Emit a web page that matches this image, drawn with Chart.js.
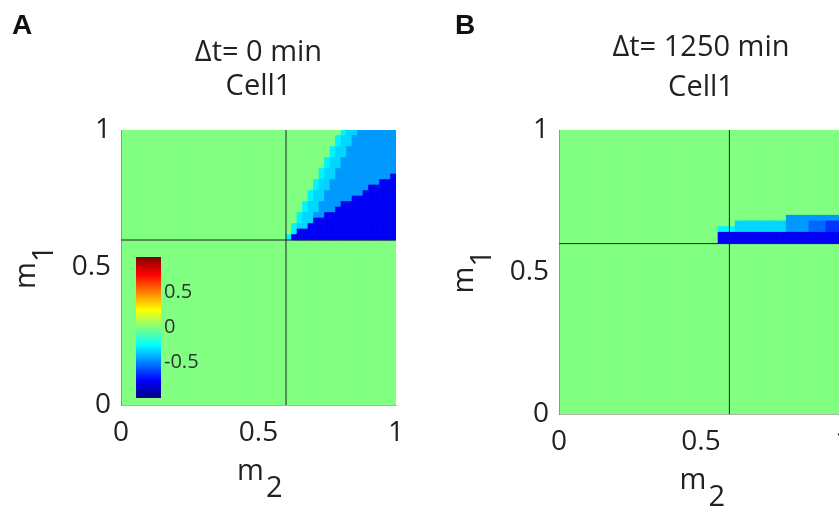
<!DOCTYPE html>
<html>
<head>
<meta charset="utf-8">
<title>Cell1 maps</title>
<script src="https://cdn.jsdelivr.net/npm/chart.js@4.4.0/dist/chart.umd.min.js"></script>
<style>
  html, body { margin: 0; padding: 0; background: #fff; }
  body { position: relative; width: 839px; height: 508px; overflow: hidden; }
  canvas { position: absolute; top: 0; }
  .tag { position: absolute; top: 11px; font: bold 28px 'Liberation Sans', Arial, sans-serif; line-height: 28px; color: #111; }
</style>
</head>
<body>
<canvas id="chartA" width="440" height="508" style="left:0"></canvas>
<canvas id="chartB" width="470" height="508" style="left:420px"></canvas>
<canvas id="colorbar" width="80" height="175" style="left:136px; top:240px"></canvas>
<div class="tag" style="left:12px">A</div>
<div class="tag" style="left:455px">B</div>
<script>
'use strict';

//tick labels
var m1Ticks = [0, 0.5, 1];
var m2Ticks = [0, 0.5, 1];
var colorTicks = [-0.5, 0, 0.5];
var colorRange = [-1, 1];

//the two black threshold lines
var m1Line = 0.6;
var m2Line = 0.6;

//grid of the maps
var cellStep = 0.02;
var cellCount = 50;

//value for each letter in the rows below, '.' is 0
var cellLevels = { c: -0.27, l: -0.33, m: -0.45, n: -0.55, b: -0.65, d: -0.77 };

//panel A: rows from m1 = 1 down to m1 = 0.6, columns m2 = 0.6 -> 1
var cellsA = [
  '..........cllmmmmmmm',
  '.........cllmmmmmmmm',
  '.........cllmmmmmmmm',
  '........cllmmmmmmmmm',
  '........cllmmmmmmmmm',
  '.......cllmmmmmmmmmm',
  '.......cllmmmmmmmmmm',
  '......cllmmmmmmmmmmm',
  '......cllmmmmmmmmmmd',
  '.....cllmmmmmmmmmddd',
  '.....cllmmmmmmmddddd',
  '....cllmmmmmmmdddddd',
  '....cllmmmmmdddddddd',
  '...cllmmmmdddddddddd',
  '...cllmmmddddddddddd',
  '..cllmmddddddddddddd',
  '..cllddddddddddddddd',
  '.clldddddddddddddddd',
  '.cdddddddddddddddddd',
  'cddddddddddddddddddd'
];
var cellsAOrigin = [0.6, 0.6]; // [m2, m1] of bottom left cell

//panel B: rows from m1 = 0.7 down to m1 = 0.6, columns m2 = 0.56 -> 1
var cellsB = [
  '............mmmmmmmmmm',
  '...lllllllllmmmmnnnbbb',
  'ccclllllllllmmmmnnnbbb',
  'dddddddddddddddddddddd',
  'dddddddddddddddddddddd'
];
var cellsBOrigin = [0.56, 0.6];

var titleA = ['\u0394t= 0 min', 'Cell1'];
var titleB = ['\u0394t= 1250 min', 'Cell1'];

var fontFamily = "'Open Sans', 'Noto Sans', sans-serif";
var textColor = '#222';
var jetStops = [[0, '#000080'], [0.125, '#0000ff'], [0.375, '#00ffff'], [0.625, '#ffff00'], [0.875, '#ff0000'], [1, '#800000']];

function round3(v) {
  return Math.round(v * 1000) / 1000;
}

//matlab jet colormap
function jet(v) {
  var t = (v - colorRange[0]) / (colorRange[1] - colorRange[0]);
  function ch(c) {
    return Math.round(255 * Math.max(0, Math.min(1, 1.5 - Math.abs(4 * t - c))));
  }
  return 'rgb(' + ch(3) + ',' + ch(2) + ',' + ch(1) + ')';
}

//the zero background, one full column per m2 step
function zeroColumns() {
  var out = [];
  for (var k = 0; k < cellCount; k++) {
    out.push({ x: round3((k + 0.5) * cellStep), y: [0, 1], v: 0 });
  }
  return out;
}

//turns the letter rows into floating bars
function buildCells(rows, origin) {
  var out = [];
  for (var i = 0; i < rows.length; i++) {
    var lo = round3(origin[1] + (rows.length - 1 - i) * cellStep);
    for (var j = 0; j < rows[i].length; j++) {
      var code = rows[i].charAt(j);
      if (code === '.') continue;
      out.push({ x: round3(origin[0] + (j + 0.5) * cellStep), y: [lo, round3(lo + cellStep)], v: cellLevels[code] });
    }
  }
  return out;
}

function cellColor(c) {
  return c.raw ? jet(c.raw.v) : jet(0);
}

//m with a subscript for the axis names
var axisNamePlugin = {
  id: 'axisNames',
  afterDraw: function (chart, args, opts) {
    var ctx = chart.ctx;
    var a = chart.chartArea;
    ctx.save();
    ctx.fillStyle = textColor;
    ctx.font = '29px ' + fontFamily;
    ctx.textBaseline = 'alphabetic';
    var mW = ctx.measureText(opts.x[0]).width;
    var cx = (a.left + a.right) / 2 - 8;
    var by = a.bottom + 75;
    ctx.textAlign = 'center';
    ctx.fillText(opts.x[0], cx, by);
    ctx.textAlign = 'left';
    ctx.fillText(opts.x[1], cx + mW / 2 + 2, by + 17);

    ctx.translate(a.left - 86, (a.top + a.bottom) / 2 + 8);
    ctx.rotate(-Math.PI / 2);
    ctx.textAlign = 'center';
    ctx.fillText(opts.y[0], 0, 0);
    ctx.textAlign = 'left';
    ctx.fillText(opts.y[1], mW / 2, 18);
    ctx.restore();
  }
};

function tickList(values) {
  return function (scale) {
    scale.ticks = values.map(function (v) { return { value: v }; });
  };
}

function makeMap(canvasId, rows, origin, title, box) {
  var ctx = document.getElementById(canvasId).getContext('2d');
  return new Chart(ctx, {
    type: 'bar',
    data: {
      datasets: [
        {
          data: zeroColumns(),
          backgroundColor: jet(0),
          borderWidth: 0,
          grouped: false,
          barPercentage: 1,
          categoryPercentage: 1,
          order: 3
        },
        {
          data: buildCells(rows, origin),
          backgroundColor: cellColor,
          borderWidth: 0,
          grouped: false,
          barPercentage: 1,
          categoryPercentage: 1,
          order: 2
        },
        {
          type: 'line',
          data: [{ x: m2Line, y: 0 }, { x: m2Line, y: 1 }],
          borderColor: textColor,
          borderWidth: 1,
          pointRadius: 0,
          order: 0
        },
        {
          type: 'line',
          data: [{ x: 0, y: m1Line }, { x: 1, y: m1Line }],
          borderColor: textColor,
          borderWidth: 1,
          pointRadius: 0,
          order: 0
        }
      ]
    },
    options: {
      responsive: false,
      animation: false,
      events: [],
      layout: { padding: { left: 0, right: box.padRight, top: 0, bottom: 0 } },
      plugins: {
        legend: { display: false },
        tooltip: { enabled: false },
        title: {
          display: true,
          text: title,
          fullSize: false,
          color: textColor,
          font: { family: fontFamily, size: 29, weight: 'normal', lineHeight: box.titleLine },
          padding: { top: box.titleTop, bottom: box.titleBottom }
        },
        axisNames: { x: ['m', '2'], y: ['m', '1'] }
      },
      scales: {
        x: {
          type: 'linear',
          min: 0,
          max: 1,
          offset: false,
          grid: { display: false, drawTicks: false },
          border: { display: true, color: 'rgba(70,90,70,0.45)', width: 1, z: 1 },
          afterBuildTicks: tickList(m2Ticks),
          afterFit: function (s) { s.height = box.xHeight; },
          ticks: {
            color: textColor,
            font: { family: fontFamily, size: 28 },
            padding: 11,
            maxRotation: 0,
            autoSkip: false,
            callback: function (v) { return String(v); }
          }
        },
        y: {
          type: 'linear',
          min: 0,
          max: 1,
          grid: { display: false, drawTicks: false },
          border: { display: true, color: 'rgba(70,90,70,0.45)', width: 1, z: 1 },
          afterBuildTicks: tickList(m1Ticks),
          afterFit: function (s) { s.width = box.yWidth; },
          ticks: {
            color: textColor,
            font: { family: fontFamily, size: 28 },
            padding: 10,
            callback: function (v) { return String(v); }
          }
        }
      }
    },
    plugins: [axisNamePlugin]
  });
}

makeMap('chartA', cellsA, cellsAOrigin, titleA,
  { yWidth: 121, xHeight: 103, padRight: 44, titleTop: 36, titleBottom: 26, titleLine: '34px' });
makeMap('chartB', cellsB, cellsBOrigin, titleB,
  { yWidth: 139, xHeight: 94, padRight: 47, titleTop: 28, titleBottom: 22, titleLine: '40px' });

//colour scale inside panel A
new Chart(document.getElementById('colorbar').getContext('2d'), {
  type: 'bar',
  data: {
    labels: ['scale'],
    datasets: [{
      data: [colorRange],
      backgroundColor: function (c) {
        var a = c.chart.chartArea;
        if (!a) return jet(0);
        var g = c.chart.ctx.createLinearGradient(0, a.bottom, 0, a.top);
        jetStops.forEach(function (s) { g.addColorStop(s[0], s[1]); });
        return g;
      },
      borderWidth: 0,
      barPercentage: 1,
      categoryPercentage: 1
    }]
  },
  options: {
    responsive: false,
    animation: false,
    events: [],
    layout: { padding: { top: 17, bottom: 17, left: 0, right: 0 } },
    plugins: { legend: { display: false }, tooltip: { enabled: false } },
    scales: {
      x: { display: false },
      y: {
        position: 'right',
        min: colorRange[0],
        max: colorRange[1],
        grid: { display: false, drawTicks: false },
        border: { display: false },
        afterBuildTicks: tickList(colorTicks),
        afterFit: function (s) { s.width = 55; },
        ticks: {
          color: '#333',
          font: { family: fontFamily, size: 20 },
          padding: 3,
          callback: function (v) { return String(v); }
        }
      }
    }
  }
});
</script>
</body>
</html>
